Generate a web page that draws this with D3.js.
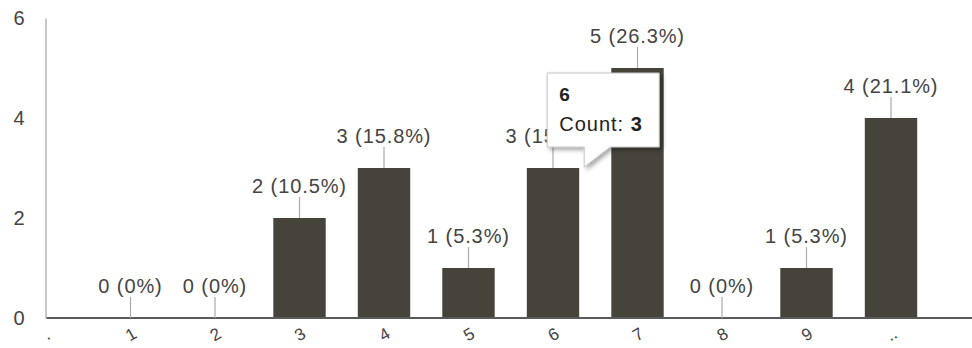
<!DOCTYPE html>
<html>
<head>
<meta charset="utf-8">
<script src="https://cdn.jsdelivr.net/npm/d3@7"></script>
<style>
  html, body { margin: 0; padding: 0; background: #fff; }
  svg { display: block; font-family: Arial, "Liberation Sans", sans-serif; }
</style>
</head>
<body>
<svg id="chart" width="972" height="348"></svg>
<script>
// Response counts per rating
const categories = [1, 2, 3, 4, 5, 6, 7, 8, 9, 10];
const counts = [0, 0, 2, 3, 1, 3, 5, 0, 1, 4];
const percents = ["0%", "0%", "10.5%", "15.8%", "5.3%", "15.8%", "26.3%", "0%", "5.3%", "21.1%"];

// Axis ticks
const xTickValues = [0, 1, 2, 3, 4, 5, 6, 7, 8, 9, 10, 11];
const xTickLabels = [".", "1", "2", "3", "4", "5", "6", "7", "8", "9", "..", "."];
const yTickValues = [0, 2, 4, 6];

// Hovered bar shown in the tooltip
const hoverCategory = 6;
const hoverCount = 3;

const svg = d3.select("#chart");

const x = d3.scaleLinear().domain([0, 11]).range([46, 975.5]);
const y = d3.scaleLinear().domain([0, 6]).range([318, 18]);
const step = x(1) - x(0);
const barW = step * 0.62;

const barColor = "#45433a";
const textColor = "#444";

// Y axis: light vertical rule with tick numbers
const yAxis = svg.append("g")
  .attr("transform", `translate(${x(0) - 0.5},0)`)
  .call(d3.axisLeft(y).tickValues(yTickValues).tickFormat(d3.format("d"))
    .tickSize(0).tickPadding(21).tickSizeOuter(0));
yAxis.select(".domain").attr("stroke", "#c8c8c8").attr("stroke-width", 2);
yAxis.selectAll(".tick text")
  .attr("font-size", 20).attr("fill", textColor)
  .attr("font-family", "Arial, 'Liberation Sans', sans-serif")
  .attr("dy", "0.3em");

// Bars
svg.append("g").selectAll("rect")
  .data(categories)
  .join("rect")
  .attr("x", (d) => x(d) - barW / 2)
  .attr("y", (d, i) => y(counts[i]))
  .attr("width", barW)
  .attr("height", (d, i) => y(0) - y(counts[i]))
  .attr("fill", barColor);

// X axis: dark baseline and slanted tick labels
const xAxis = svg.append("g")
  .attr("transform", `translate(0,${y(0) - 0.5})`)
  .call(d3.axisBottom(x).tickValues(xTickValues).tickFormat((d, i) => xTickLabels[i]).tickSize(0).tickSizeOuter(0));
xAxis.select(".domain").attr("stroke", "#5a5a5a").attr("stroke-width", 2);
xAxis.selectAll(".tick text")
  .attr("font-size", 17).attr("fill", textColor)
  .attr("font-family", "Arial, 'Liberation Sans', sans-serif")
  .attr("y", 0).attr("dy", 0)
  .attr("transform", (d) => `translate(${d === 11 ? -5 : 0},17) rotate(-30)`)
  .attr("dominant-baseline", "central");

// Value labels with leader stems
const labels = svg.append("g");
categories.forEach((c, i) => {
  const top = y(counts[i]);
  labels.append("line")
    .attr("x1", x(c)).attr("x2", x(c))
    .attr("y1", top).attr("y2", top - 21)
    .attr("stroke", "#aaa").attr("stroke-width", 1.2);
  labels.append("text")
    .attr("x", x(c)).attr("y", top - 25)
    .attr("text-anchor", "middle")
    .attr("font-size", 20)
    .attr("letter-spacing", "0.9px")
    .attr("fill", textColor)
    .text(`${counts[i]} (${percents[i]})`);
});

// Tooltip for the hovered bar
const defs = svg.append("defs");
const shadow = defs.append("filter").attr("id", "tipShadow")
  .attr("x", "-20%").attr("y", "-20%").attr("width", "150%").attr("height", "150%");
shadow.append("feDropShadow")
  .attr("dx", 2.5).attr("dy", 2.5).attr("stdDeviation", 2)
  .attr("flood-color", "#000").attr("flood-opacity", 0.35);

const hi = categories.indexOf(hoverCategory);
const tipX = x(hoverCategory) + barW / 2 + 5;   // tail tip near the bar's upper right
const tipY = y(counts[hi]) - 1;
const boxL = tipX - 37, boxR = tipX + 75, boxT = tipY - 94, boxB = tipY - 20;

const tip = svg.append("g");
tip.append("path")
  .attr("d", `M${boxL},${boxT} H${boxR} V${boxB} H${tipX + 26} L${tipX},${tipY} L${tipX},${boxB} H${boxL} Z`)
  .attr("fill", "#fff")
  .attr("stroke", "#c4c4c4")
  .attr("stroke-width", 1)
  .attr("filter", "url(#tipShadow)");
tip.append("text")
  .attr("x", boxL + 12).attr("y", boxT + 28)
  .attr("font-size", 19).attr("font-weight", "bold").attr("fill", "#222")
  .text(hoverCategory);
const countLine = tip.append("text")
  .attr("x", boxL + 12).attr("y", boxT + 58)
  .attr("font-size", 20).attr("letter-spacing", "1px").attr("fill", "#222");
countLine.append("tspan").text("Count: ");
countLine.append("tspan").attr("font-weight", "bold").text(hoverCount);
</script>
</body>
</html>
